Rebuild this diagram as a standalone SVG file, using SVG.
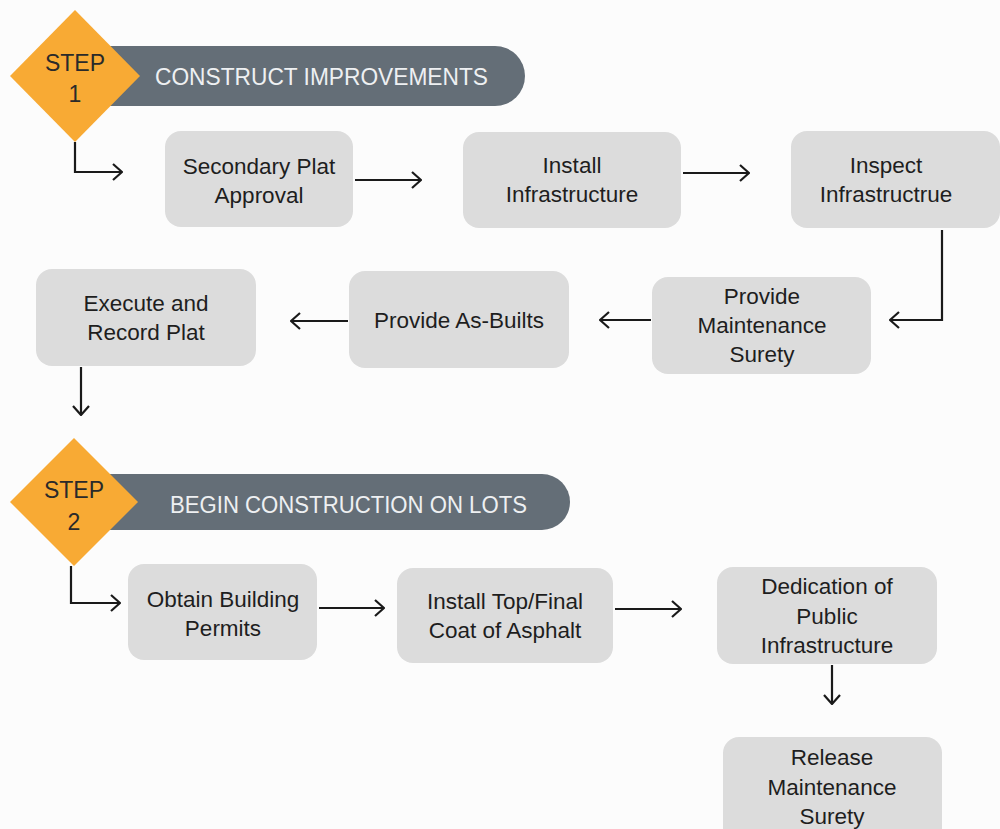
<svg xmlns="http://www.w3.org/2000/svg" width="1000" height="829" viewBox="0 0 1000 829">
  <defs>
    <style>
      .box { fill: #dcdcdc; }
      .bar { fill: #646e77; }
      .diamond { fill: #f8aa34; }
      .label { font-family: "Liberation Sans", Arial, sans-serif; font-size: 22.5px; fill: #1e1e1e; text-anchor: middle; }
      .step { font-family: "Liberation Sans", Arial, sans-serif; font-size: 23px; fill: #2a2a2a; text-anchor: middle; }
      .title { font-family: "Liberation Sans", Arial, sans-serif; font-size: 23px; fill: #eef0f2; }
      .conn { fill: none; stroke: #1a1a1a; stroke-width: 2.2; }
    </style>
    <marker id="arrow" viewBox="0 0 12 18" refX="11" refY="9" markerWidth="12" markerHeight="18" markerUnits="userSpaceOnUse" orient="auto">
      <path d="M2,1 L11,9 L2,17" fill="none" stroke="#1a1a1a" stroke-width="2.2"/>
    </marker>
  </defs>

  <rect x="0" y="0" width="1000" height="829" fill="#fcfcfc"/>

  <!-- Phase 1 header -->
  <g id="header1">
    <path class="bar" d="M100,46 H495 A30,30 0 0 1 495,106 H100 Z"/>
    <text class="title" x="155" y="85" textLength="333" lengthAdjust="spacingAndGlyphs">CONSTRUCT IMPROVEMENTS</text>
  </g>
  <g id="step1">
    <polygon class="diamond" points="75,10 140,76 75,142 10,76"/>
    <text class="step" x="75" y="71">STEP</text>
    <text class="step" x="75" y="102">1</text>
  </g>

  <!-- Phase 2 header -->
  <g id="header2">
    <path class="bar" d="M100,474 H542 A28,28 0 0 1 542,530 H100 Z"/>
    <text class="title" x="170" y="513" textLength="357" lengthAdjust="spacingAndGlyphs">BEGIN CONSTRUCTION ON LOTS</text>
  </g>
  <g id="step2">
    <polygon class="diamond" points="74,438 138,502 74,566 10,502"/>
    <text class="step" x="74" y="498">STEP</text>
    <text class="step" x="74" y="530">2</text>
  </g>

  <!-- Process nodes -->
  <g id="secondary-plat">
    <rect class="box" x="165" y="131" width="188" height="96" rx="16"/>
    <text class="label" x="259" y="174">Secondary Plat</text>
    <text class="label" x="259" y="203">Approval</text>
  </g>
  <g id="install-infra">
    <rect class="box" x="463" y="132" width="218" height="96" rx="16"/>
    <text class="label" x="572" y="173">Install</text>
    <text class="label" x="572" y="202">Infrastructure</text>
  </g>
  <g id="inspect-infra">
    <rect class="box" x="791" y="131" width="209" height="97" rx="16"/>
    <text class="label" x="886" y="173">Inspect</text>
    <text class="label" x="886" y="202">Infrastructrue</text>
  </g>
  <g id="maintenance-surety">
    <rect class="box" x="652" y="277" width="219" height="97" rx="16"/>
    <text class="label" x="762" y="304">Provide</text>
    <text class="label" x="762" y="333">Maintenance</text>
    <text class="label" x="762" y="362">Surety</text>
  </g>
  <g id="as-builts">
    <rect class="box" x="349" y="271" width="220" height="97" rx="16"/>
    <text class="label" x="459" y="328">Provide As-Builts</text>
  </g>
  <g id="record-plat">
    <rect class="box" x="36" y="269" width="220" height="97" rx="16"/>
    <text class="label" x="146" y="311">Execute and</text>
    <text class="label" x="146" y="340">Record Plat</text>
  </g>
  <g id="building-permits">
    <rect class="box" x="128" y="564" width="189" height="96" rx="16"/>
    <text class="label" x="223" y="607">Obtain Building</text>
    <text class="label" x="223" y="636">Permits</text>
  </g>
  <g id="final-asphalt">
    <rect class="box" x="397" y="568" width="216" height="95" rx="16"/>
    <text class="label" x="505" y="609">Install Top/Final</text>
    <text class="label" x="505" y="638">Coat of Asphalt</text>
  </g>
  <g id="dedication">
    <rect class="box" x="717" y="567" width="220" height="97" rx="16"/>
    <text class="label" x="827" y="594">Dedication of</text>
    <text class="label" x="827" y="624">Public</text>
    <text class="label" x="827" y="653">Infrastructure</text>
  </g>
  <g id="release-surety">
    <rect class="box" x="723" y="737" width="219" height="110" rx="16"/>
    <text class="label" x="832" y="765">Release</text>
    <text class="label" x="832" y="795">Maintenance</text>
    <text class="label" x="832" y="824">Surety</text>
  </g>

  <!-- Connectors -->
  <g id="connectors">
    <path class="conn" d="M75,142 V172 H122" marker-end="url(#arrow)"/>
    <path class="conn" d="M355,180 H421" marker-end="url(#arrow)"/>
    <path class="conn" d="M683,173 H749" marker-end="url(#arrow)"/>
    <path class="conn" d="M942,230 V320 H890" marker-end="url(#arrow)"/>
    <path class="conn" d="M651,320 H600" marker-end="url(#arrow)"/>
    <path class="conn" d="M348,321 H291" marker-end="url(#arrow)"/>
    <path class="conn" d="M81,367 V415" marker-end="url(#arrow)"/>
    <path class="conn" d="M71,566 V603 H120" marker-end="url(#arrow)"/>
    <path class="conn" d="M319,608 H384" marker-end="url(#arrow)"/>
    <path class="conn" d="M615,609 H681" marker-end="url(#arrow)"/>
    <path class="conn" d="M832,665 V704" marker-end="url(#arrow)"/>
  </g>
</svg>
